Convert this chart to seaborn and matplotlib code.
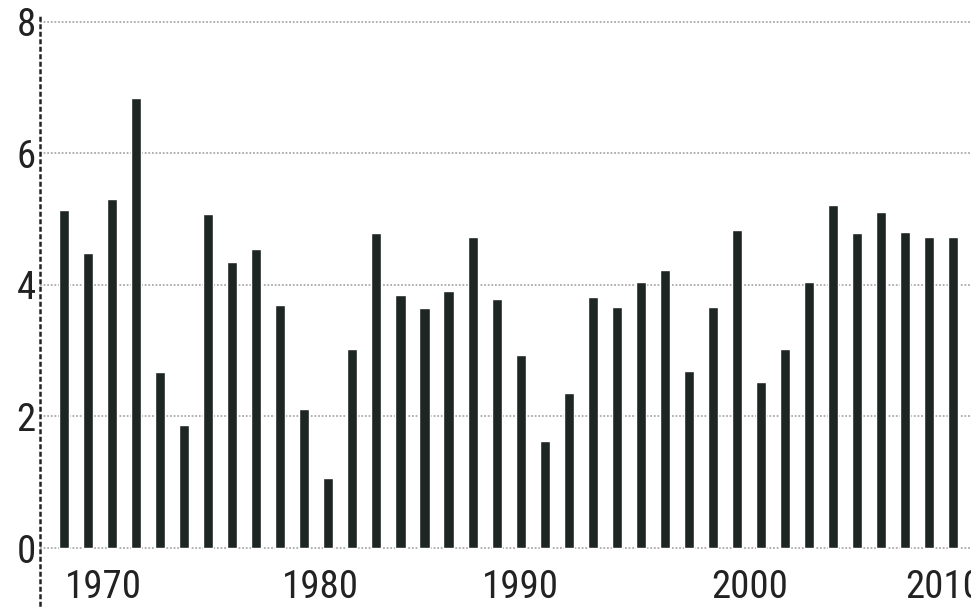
import matplotlib
matplotlib.use("Agg")
import matplotlib.pyplot as plt
from matplotlib import font_manager
from matplotlib.font_manager import FontProperties
import seaborn as sns
import pandas as pd

# ---- data ----
bar_index = list(range(38))
values = [5.13, 4.48, 5.30, 6.84, 2.67, 1.87, 5.07, 4.34, 4.54, 3.70,
          2.12, 1.06, 3.02, 4.78, 3.84, 3.64, 3.90, 4.72, 3.78, 2.94,
          1.62, 2.35, 3.82, 3.66, 4.05, 4.23, 2.69, 3.67, 4.84, 2.52,
          3.03, 4.04, 5.22, 4.78, 5.10, 4.80, 4.73, 4.73]
x_tick_labels = ["1970", "1980", "1990", "2000", "2010"]
y_ticks = [0, 2, 4, 6, 8]

# ---- styling / layout ----
x_tick_positions = [1.63, 10.67, 19.0, 28.54, 36.6]

sns.set_theme(style="white")
plt.rcParams["font.family"] = ["DejaVu Sans"]

# look for a condensed / narrow sans face
cand = None
prefs = ["robotocondensed-regular", "opensans_condensed", "opensanscondensed",
         "liberationsansnarrow-regular", "dejavusanscondensed.ttf"]
files = [f.fname for f in font_manager.fontManager.ttflist]
for p in prefs:
    for fn in files:
        base = fn.split("/")[-1].lower().replace(" ", "")
        if base.startswith(p) or p in base:
            if "bold" in base or "italic" in base or "oblique" in base or "light" in base:
                continue
            cand = fn
            break
    if cand:
        break
if cand is None:
    for fn in files:
        b = fn.lower()
        if ("condensed" in b or "narrow" in b) and not any(k in b for k in ["bold", "italic", "oblique", "light", "thin", "black", "medium", "semi"]):
            cand = fn
            break

fsize = 28
fp = FontProperties(fname=cand, size=fsize) if cand else FontProperties(family="DejaVu Sans", stretch="condensed", size=fsize)

df = pd.DataFrame({"i": bar_index, "v": values})

fig = plt.figure(figsize=(9.71, 6.13), dpi=100)
ax = fig.add_axes([40 / 971, 1 - 605 / 613, 1 - 40 / 971, (605 - 15) / 613])

sns.barplot(data=df, x="i", y="v", color="#1d2622", width=0.42,
            saturation=1, ax=ax, zorder=3)

ax.set_xlim(-1.0, 37.74)
ax.set_ylim(-0.866, 8.10)

ax.set_yticks(y_ticks)
ax.set_yticklabels([str(t) for t in y_ticks])
ax.set_xticks(x_tick_positions)
ax.set_xticklabels(x_tick_labels)
ax.set_xlabel("")
ax.set_ylabel("")

ax.tick_params(axis="y", length=0, pad=3, colors="#222222")
ax.tick_params(axis="x", length=0, pad=-26, colors="#222222")
for lab in ax.get_xticklabels() + ax.get_yticklabels():
    lab.set_fontproperties(fp)

for y in y_ticks:
    ax.axhline(y, color="#aaaaaa", lw=1.3, ls=(0, (1, 1)), zorder=1)

for s in ["top", "right", "bottom"]:
    ax.spines[s].set_visible(False)
ax.spines["left"].set_visible(True)
ax.spines["left"].set_color("#222222")
ax.spines["left"].set_linewidth(1.8)
ax.spines["left"].set_linestyle((0, (1, 2)))
ax.grid(False)

fig.savefig("out.png", dpi=100, facecolor="white")
